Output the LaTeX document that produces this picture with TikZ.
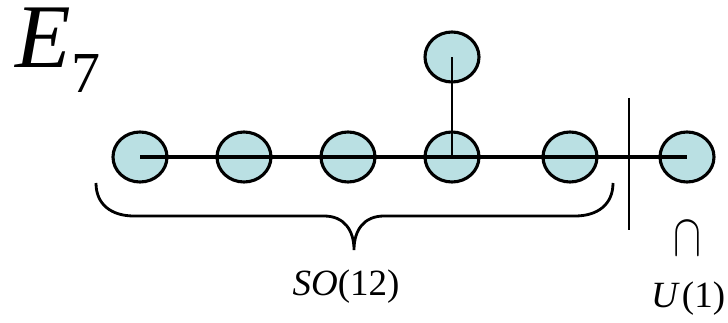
\documentclass[tikz,border=0pt]{standalone}
\usepackage{fontspec}
\setmainfont{Liberation Serif}
\usetikzlibrary{shapes.geometric}
\definecolor{dot}{RGB}{186,224,227}
\tikzset{
  dynk/.style={draw=black, fill=dot, ellipse, line width=3.1pt, minimum width=54pt, minimum height=50pt, inner sep=0pt},
  link/.style={line width=4pt},
  stem/.style={line width=2.9pt},
  brace/.style={line width=2.8pt},
  lbl/.style={inner sep=0pt, anchor=base},
}
\begin{document}
\begin{tikzpicture}[x=1pt,y=-1pt]
\useasboundingbox (0,0) rectangle (728,323);
\node[dynk] (c1) at (140,157) {};
\node[dynk] (c2) at (244,157) {};
\node[dynk] (c3) at (348,157) {};
\node[dynk] (c4) at (452,157) {};
\node[dynk] (c5) at (570,157) {};
\node[dynk] (c6) at (687,157) {};
\node[dynk] (c7) at (452,57) {};
\draw[link] (c1.center) -- (c6.center);
\draw[stem] (c4.center) -- (c7.center);
\coordinate (vt) at (629,98);
\coordinate (vb) at (629,230);
\draw[stem] (vt) -- (vb);
\coordinate (bl) at (96,183);
\coordinate (br) at (613,183);
\coordinate (bm) at (354,250);
\draw[brace] (bl) .. controls (96,205) and (112,216) .. (134,216)
  -- (324,216) .. controls (344,216) and (354,230) .. (bm)
  .. controls (354,230) and (364,216) .. (384,216)
  -- (575,216) .. controls (597,216) and (613,205) .. (br);
\node[lbl, anchor=base west, text height=55pt, font=\fontsize{91}{91}\selectfont] (e) at (15,68) {\textit{E}};
\node[lbl, anchor=base west, font=\fontsize{58}{58}\selectfont] (seven) at (71,93) {7};
\node[lbl, font=\fontsize{37}{37}\selectfont] (so) at (346,295) {\textit{SO}(12)};
\node[lbl, anchor=base west, font=\fontsize{37}{37}\selectfont] (u) at (651,307) {\textit{U}\hspace{2pt}(1)};
\node[lbl] (cap) at (687,255) {\scalebox{4.2}[6]{$\cap$}};
\end{tikzpicture}
\end{document}
